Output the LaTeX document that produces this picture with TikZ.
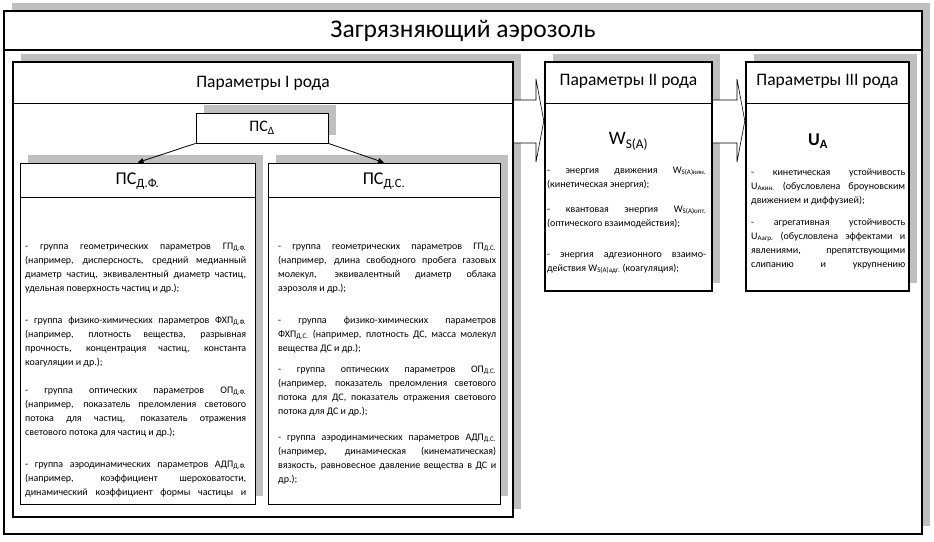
\documentclass[tikz,border=0pt]{standalone}
\usepackage{fontspec}
\setmainfont{Carlito}
\usetikzlibrary{positioning,calc,arrows.meta,shadows}

\newcommand{\lo}[1]{\textsubscript{#1}}
\hyphenpenalty=10000
\exhyphenpenalty=10000

\begin{document}
\begin{tikzpicture}[x=1pt,y=-1pt,
    boxshadow/.style={drop shadow={shadow xshift=8pt,shadow yshift=8pt,fill=black!25,opacity=1}},
    bigbox/.style={rectangle,draw,line width=2.4pt,fill=white,boxshadow,inner sep=0pt},
    box/.style={rectangle,draw,line width=0.8pt,fill=white,boxshadow,inner sep=0pt},
    head/.style={font=\fontsize{17.5}{20}\selectfont},
    body/.style={anchor=base west,inner sep=0pt,align=justify,font=\fontsize{10}{14.3}\selectfont},
    flow/.style={draw,fill=white,line width=0.6pt}]

\useasboundingbox (0,0) rectangle (934,541);

% outer frame
\node[bigbox,minimum width=918pt,minimum height=523pt] (aer) at (463,272.5) {};
\draw[line width=2.4pt] (aer.west |- 0,50) -- (aer.east |- 0,50);
\node[font=\fontsize{25.5}{30}\selectfont] (aertitle) at (463,31) {Загрязняющий аэрозоль};

% parameters of kind I, II, III
\node[bigbox,minimum width=500pt,minimum height=455pt] (kind1) at (263,289.5) {};
\node[bigbox,minimum width=167pt,minimum height=229pt] (kind2) at (628.5,176.5) {};
\node[bigbox,minimum width=163pt,minimum height=229pt] (kind3) at (827.5,176.5) {};
\draw[line width=0.8pt] (kind1.west |- 0,103) -- (kind1.east |- 0,103);
\draw[line width=0.8pt] (kind2.west |- 0,103) -- (kind2.east |- 0,103);
\draw[line width=0.8pt] (kind3.west |- 0,103) -- (kind3.east |- 0,103);
\node[head] (kind1t) at (263,83) {Параметры I рода};
\node[head] (kind2t) at (628.5,81) {Параметры II рода};
\node[head] (kind3t) at (827.5,81) {Параметры III рода};

\draw[flow] (kind1.east |- 0,100) -- (536,100) -- (536,79) -- (kind2.west |- 0,121)
  -- (536,162) -- (536,143) -- (kind1.east |- 0,143);
\draw[flow] (kind2.east |- 0,100) -- (737,100) -- (737,79) -- (kind3.west |- 0,121)
  -- (737,162) -- (737,143) -- (kind2.east |- 0,143);

% PS boxes
\node[box,minimum width=132pt,minimum height=30pt,font=\fontsize{16}{18}\selectfont] (psd) at (262,128) {ПС\lo{Δ}};
\node[box,minimum width=235pt,minimum height=341pt] (psdf) at (137.5,333.5) {};
\node[box,minimum width=232pt,minimum height=341pt] (psds) at (384,333.5) {};
\draw[line width=0.8pt] (psdf.west |- 0,197) -- (psdf.east |- 0,197);
\draw[line width=0.8pt] (psds.west |- 0,197) -- (psds.east |- 0,197);
\node[font=\fontsize{18}{20}\selectfont] (psdft) at (137.5,181) {ПС\lo{Д.Ф.}};
\node[font=\fontsize{18}{20}\selectfont] (psdst) at (384,181) {ПС\lo{Д.С.}};

\draw[-{Triangle[length=6pt,width=5pt]},line width=0.8pt] (psd.south west) -- (psdf.north);
\draw[-{Triangle[length=6pt,width=5pt]},line width=0.8pt] (psd.south east) -- (psds.north);

% texts of PS_DF
\node[body,text width=221pt] (dfA) at (25,249) {- группа геометрических параметров ГП\lo{Д.Ф.}\linebreak
  (например, дисперсность, средний медианный\linebreak
  диаметр частиц, эквивалентный диаметр частиц,\linebreak
  удельная поверхность частиц и др.);};
\node[body,text width=221pt] (dfB) at (25,323) {- группа физико-химических параметров ФХП\lo{Д.Ф.}\linebreak
  (например, плотность вещества, разрывная\linebreak
  прочность, концентрация частиц, константа\linebreak
  коагуляции и др.);};
\node[body,text width=221pt] (dfC) at (25,393) {- группа оптических параметров ОП\lo{Д.Ф.}\linebreak
  (например, показатель преломления светового\linebreak
  потока для частиц, показатель отражения\linebreak
  светового потока для частиц и др.);};
\node[body,text width=221pt] (dfD) at (25,467) {\parfillskip=0pt\relax
  - группа аэродинамических параметров АДП\lo{Д.Ф.}\linebreak
  (например, коэффициент шероховатости,\linebreak
  динамический коэффициент формы частицы и\par};

% texts of PS_DS
\node[body,text width=218pt] (dsA) at (278,249) {- группа геометрических параметров ГП\lo{Д.С.}\linebreak
  (например, длина свободного пробега газовых\linebreak
  молекул, эквивалентный диаметр облака\linebreak
  аэрозоля и др.);};
\node[body,text width=218pt] (dsB) at (278,323) {- группа физико-химических параметров\linebreak
  ФХП\lo{Д.С.} (например, плотность ДС, масса молекул\linebreak
  вещества ДС и др.);};
\node[body,text width=218pt] (dsC) at (278,372) {- группа оптических параметров ОП\lo{Д.С.}\linebreak
  (например, показатель преломления светового\linebreak
  потока для ДС, показатель отражения светового\linebreak
  потока для ДС и др.);};
\node[body,text width=218pt] (dsD) at (278,440) {- группа аэродинамических параметров АДП\lo{Д.С.}\linebreak
  (например, динамическая (кинематическая)\linebreak
  вязкость, равновесное давление вещества в ДС и\linebreak
  др.);};

% texts of kind II
\node[font=\fontsize{19}{22}\selectfont] (wsa) at (628.5,141) {W\lo{S(A)}};
\node[body,text width=159pt] (wA) at (547,173) {- энергия движения W\lo{S(A)кин.}\linebreak
  (кинетическая энергия);};
\node[body,text width=159pt] (wB) at (547,212) {- квантовая энергия W\lo{S(A)опт.}\linebreak
  (оптического взаимодействия);};
\node[body,text width=159pt] (wC) at (547,257) {- энергия адгезионного взаимо-\linebreak
  действия W\lo{S(A)адг.} (коагуляция);};

% texts of kind III
\node[font=\bfseries\fontsize{18}{20}\selectfont] (ua) at (818,141) {U\lo{A}};
\node[body,text width=154pt] (uA) at (751,175) {- кинетическая устойчивость\linebreak
  U\lo{Акин.} (обусловлена броуновским\linebreak
  движением и диффузией);};
\node[body,text width=154pt] (uB) at (751,225) {\parfillskip=0pt\relax
  - агрегативная устойчивость\linebreak
  U\lo{Аагр.} (обусловлена эффектами и\linebreak
  явлениями, препятствующими\linebreak
  слипанию и укрупнению\par};

\end{tikzpicture}
\end{document}
